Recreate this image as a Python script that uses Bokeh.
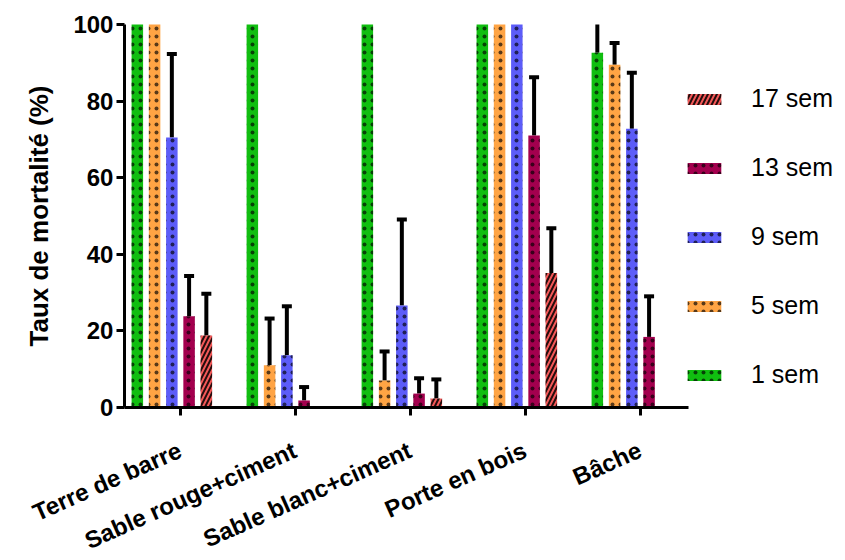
import math
from bokeh.plotting import figure
from bokeh.models import (ColumnDataSource, Whisker, TeeHead, FixedTicker,
                          Legend, LegendItem, LabelSet)
from bokeh.core.properties import value
from bokeh.embed import file_html
from bokeh.resources import INLINE

# ---------------- data ----------------
categories = ["Terre de barre", "Sable rouge+ciment", "Sable blanc+ciment",
              "Porte en bois", "Bâche"]
series = ["1 sem", "5 sem", "9 sem", "13 sem", "17 sem"]

sem1 = [100, 100, 100, 100, 92.6]
sem1_err = [0, 0, 0, 0, 7.4]
sem5 = [100, 11.0, 7.0, 100, 89.5]
sem5_err = [0, 12.2, 7.6, 0, 5.7]
sem9 = [70.5, 13.6, 26.6, 100, 72.8]
sem9_err = [21.8, 12.8, 22.5, 0, 14.6]
sem13 = [23.8, 1.8, 3.6, 71.0, 18.4]
sem13_err = [10.5, 3.5, 4.0, 15.2, 10.6]
sem17 = [18.8, 0, 2.3, 35.1, 0]
sem17_err = [10.9, 0, 5.0, 11.7, 0]

values = [sem1, sem5, sem9, sem13, sem17]
errors = [sem1_err, sem5_err, sem9_err, sem13_err, sem17_err]

colors = ["#10BE10", "#FFA444", "#5C5CF8", "#A3004E", "#F45858"]
hatches = ["dot", "dot", "dot", "dot", "right_diagonal_line"]

FONT = "Liberation Sans"

# ---------------- figure ----------------
# The frame covers the whole canvas so that the rotated category labels and
# the axis texts (drawn inside the frame) are not clipped; the axes are
# pinned at x=-0.487 and y=0.
X0 = -0.487
p = figure(width=845, height=560, x_range=(-1.565, 5.783), y_range=(-40, 106.27),
           output_backend="svg", toolbar_location=None,
           min_border_left=0, min_border_top=0, min_border_bottom=0,
           min_border_right=0)
p.xgrid.visible = False
p.ygrid.visible = False
p.outline_line_color = None
p.background_fill_color = "white"

slot = 0.15
bar_w = 0.1
renderers = []
for k, (name, vals, errs) in enumerate(zip(series, values, errors)):
    off = (k - 2.5) * slot
    xs = [i + off for i in range(len(categories))]
    src = ColumnDataSource(dict(x=xs, top=vals))
    if k < 4:
        hatch_kw = dict(hatch_alpha=0.65, hatch_scale=8, hatch_weight=1.0)
    else:
        hatch_kw = dict(hatch_alpha=0.85, hatch_scale=9, hatch_weight=2.0)
    r = p.vbar(x="x", top="top", width=bar_w, bottom=0, source=src,
               fill_color=colors[k], line_color=None,
               hatch_pattern=hatches[k], hatch_color="black", **hatch_kw)
    renderers.append(r)
    wx, lo, up = [], [], []
    for x, v, e in zip(xs, vals, errs):
        if e > 0:
            wx.append(x); lo.append(v); up.append(v + e)
    wsrc = ColumnDataSource(dict(x=wx, lower=lo, upper=up))
    # the 1-week error bar runs off the top of the axis, so no cap is seen
    head = None if k == 0 else TeeHead(size=10, line_width=4, line_color="black")
    w = Whisker(base="x", lower="lower", upper="upper", source=wsrc,
                dimension="height", line_color="black", line_width=4,
                upper_head=head, lower_head=None)
    p.add_layout(w)

# ---------------- axes ----------------
for ax in (p.xaxis, p.yaxis):
    ax.axis_line_width = 3
    ax.axis_line_color = "black"
    ax.major_tick_line_width = 3
    ax.major_tick_line_color = "black"
    ax.major_tick_out = 8
    ax.major_tick_in = 0
    ax.minor_tick_line_color = None
    ax.major_label_text_font = FONT
    ax.major_label_text_font_style = "bold"
    ax.major_label_text_color = "black"

p.yaxis.ticker = FixedTicker(ticks=[0, 20, 40, 60, 80, 100])
p.yaxis.bounds = (0, 100)
p.yaxis.fixed_location = X0
p.yaxis.major_label_text_font_size = "24px"
p.yaxis.major_label_standoff = 3
p.yaxis.axis_label = "Taux de mortalité (%)"
p.yaxis.axis_label_text_font = FONT
p.yaxis.axis_label_text_font_style = "bold"
p.yaxis.axis_label_text_font_size = "26px"
p.yaxis.axis_label_text_color = "black"
p.yaxis.axis_label_standoff = 16

p.xaxis.ticker = FixedTicker(ticks=list(range(len(categories))))
p.xaxis.major_label_overrides = {i: "" for i in range(len(categories))}
p.xaxis.bounds = (X0, 4.42)
p.xaxis.fixed_location = 0

# rotated category labels, anchored at their ticks
cat_src = ColumnDataSource(dict(x=list(range(len(categories))),
                                y=[0] * len(categories),
                                text=categories))
cat_labels = LabelSet(x="x", y="y", text="text", source=cat_src,
                      x_offset=-6, y_offset=-29,
                      angle=math.radians(24), text_align="right",
                      text_baseline="top", text_font=value(FONT),
                      text_font_style="bold", text_font_size="24px",
                      text_color="black")
p.add_layout(cat_labels)

# ---------------- legend ----------------
items = [LegendItem(label=series[k], renderers=[renderers[k]]) for k in [4, 3, 2, 1, 0]]
legend = Legend(items=items, location=(683, 171), glyph_width=42, glyph_height=14,
                label_standoff=26, spacing=40, padding=0, margin=0,
                label_height=26, border_line_color=None, background_fill_alpha=0,
                label_text_font=FONT, label_text_font_size="25px",
                label_text_color="black")
p.add_layout(legend)

open("out.html", "w").write(file_html(p, INLINE))
